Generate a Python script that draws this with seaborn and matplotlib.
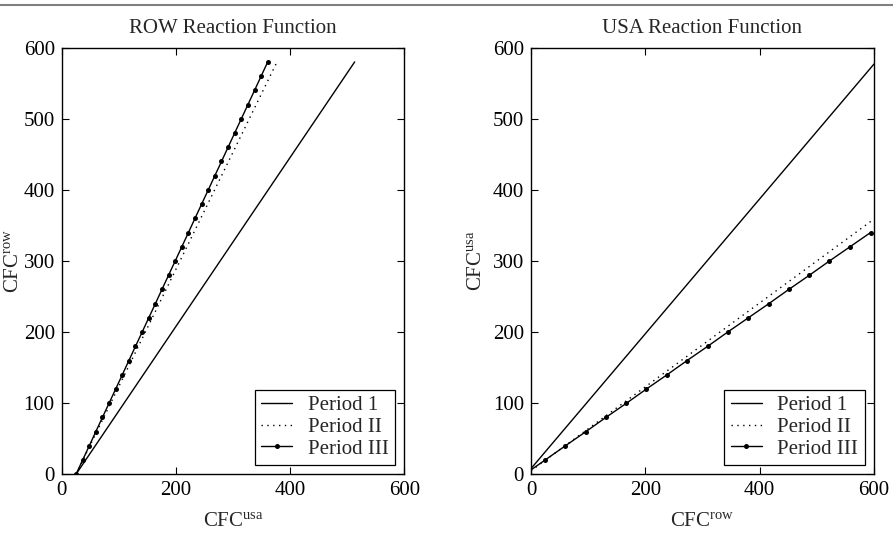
import matplotlib
matplotlib.use("Agg")
import matplotlib.pyplot as plt
import seaborn as sns
import pandas as pd
from matplotlib.lines import Line2D

# ---------------- data ----------------
# ROW reaction function: CFC_row (y) vs CFC_usa (x)
row_p1_x = [25, 513]
row_p1_y = [0, 580]
row_p2_x = [25, 377]
row_p2_y = [0, 580]
row_p3_y = [0, 20, 40, 60, 80, 100, 120, 140, 160, 180, 200, 220, 240, 260, 280,
            300, 320, 340, 360, 380, 400, 420, 440, 460, 480, 500, 520, 540, 560, 580]
row_p3_x = [25.0, 36.6, 48.2, 59.7, 71.3, 82.9, 94.5, 106.1, 117.6, 129.2, 140.8,
            152.4, 164.0, 175.5, 187.1, 198.7, 210.3, 221.9, 233.4, 245.0, 256.6,
            268.2, 279.8, 291.3, 302.9, 314.5, 326.1, 337.7, 349.2, 360.8]

# USA reaction function: CFC_usa (y) vs CFC_row (x)
usa_p1_x = [0, 600]
usa_p1_y = [8, 577]
usa_p2_x = [0, 600]
usa_p2_y = [5, 359]
usa_p3_y = [0, 20, 40, 60, 80, 100, 120, 140, 160, 180, 200, 220, 240, 260, 280,
            300, 320, 340]
usa_p3_x = [-11, 24.5, 60, 96, 131, 167, 202, 238, 273, 309, 344, 380, 416, 451,
            487, 522, 558, 594]

series_labels = ["Period 1", "Period II", "Period III"]
titles = ["ROW Reaction Function", "USA Reaction Function"]
xlabels = [r"$\mathrm{CFC}^{\mathrm{usa}}$", r"$\mathrm{CFC}^{\mathrm{row}}$"]
ylabels = [r"$\mathrm{CFC}^{\mathrm{row}}$", r"$\mathrm{CFC}^{\mathrm{usa}}$"]
xticks = [0, 200, 400, 600]
yticks = [0, 100, 200, 300, 400, 500, 600]

# ---------------- style ----------------
sns.set_style("ticks")
plt.rcParams["font.family"] = ["Liberation Serif", "DejaVu Serif"]
plt.rcParams["mathtext.fontset"] = "custom"
plt.rcParams["mathtext.rm"] = "Liberation Serif"
plt.rcParams["mathtext.it"] = "Liberation Serif:italic"
plt.rcParams["mathtext.bf"] = "Liberation Serif:bold"

FS = 15

fig = plt.figure(figsize=(8.93, 5.33), dpi=100)
ax1 = fig.add_axes([0.0691, 0.1101, 0.3837, 0.8004])
ax2 = fig.add_axes([0.5946, 0.1101, 0.3841, 0.8004])

def draw(ax, p1x, p1y, p2x, p2y, p3x, p3y):
    d1 = pd.DataFrame({"x": p1x, "y": p1y})
    d2 = pd.DataFrame({"x": p2x, "y": p2y})
    d3 = pd.DataFrame({"x": p3x, "y": p3y})
    sns.lineplot(data=d1, x="x", y="y", ax=ax, color="black", lw=1.0,
                 estimator=None, sort=False, label=series_labels[0])
    sns.lineplot(data=d2, x="x", y="y", ax=ax, color="black", lw=1.0,
                 linestyle=(0, (1, 3.2)), estimator=None, sort=False,
                 label=series_labels[1])
    sns.lineplot(data=d3, x="x", y="y", ax=ax, color="black", lw=1.0,
                 marker="o", markersize=3.6, markeredgewidth=0,
                 estimator=None, sort=False, label=series_labels[2])

draw(ax1, row_p1_x, row_p1_y, row_p2_x, row_p2_y, row_p3_x, row_p3_y)
draw(ax2, usa_p1_x, usa_p1_y, usa_p2_x, usa_p2_y, usa_p3_x, usa_p3_y)

ylabel_x = [-0.113, -0.131]
for i, ax in enumerate([ax1, ax2]):
    ax.set_xlim(0, 600)
    ax.set_ylim(0, 600)
    ax.set_xticks(xticks)
    ax.set_yticks(yticks)
    ax.tick_params(direction="in", top=True, right=True, length=5, width=0.8,
                   labelsize=FS, colors="black", pad=5)
    for s in ax.spines.values():
        s.set_visible(True)
        s.set_linewidth(1.0)
        s.set_color("black")
    ax.set_title(titles[i], fontsize=FS, pad=10.5)
    ax.set_xlabel(xlabels[i], fontsize=FS)
    ax.set_ylabel(ylabels[i], fontsize=FS)
    ax.xaxis.set_label_coords(0.5, -0.088)
    ax.yaxis.set_label_coords(ylabel_x[i], 0.5)
    leg = ax.legend(loc="lower right", fontsize=FS, frameon=True, fancybox=False,
                    framealpha=1, edgecolor="black", handlelength=1.5,
                    borderpad=0.3, labelspacing=0.1, handletextpad=0.75,
                    borderaxespad=0.45, numpoints=1)
    leg.get_frame().set_linewidth(0.9)

# thin gray rule at the top of the figure
fig.add_artist(Line2D([0, 1], [0.9906, 0.9906], color="#808080", lw=1.5,
                      transform=fig.transFigure))

fig.savefig("out.png", dpi=100)
